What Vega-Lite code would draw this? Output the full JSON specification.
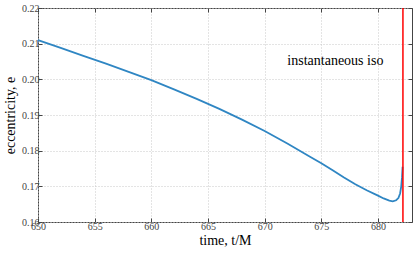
{
  "$schema": "https://vega.github.io/schema/vega-lite/v6.json",
  "width": 374,
  "height": 214,
  "autosize": {"type": "none"},
  "padding": {"left": 38, "top": 8, "right": 3, "bottom": 32},
  "config": {
    "font": "Liberation Serif",
    "view": {"stroke": "#444", "strokeWidth": 1},
    "axis": {
      "labelFont": "Liberation Serif",
      "titleFont": "Liberation Serif",
      "labelColor": "#444",
      "labelFontSize": 10,
      "titleFontSize": 14,
      "titleFontWeight": "normal",
      "titleColor": "#000",
      "labelOverlap": false,
      "labelFlush": false,
      "labelBound": false,
      "domain": false,
      "tickColor": "#444",
      "tickSize": -4,
      "gridColor": "#c8c8c8",
      "gridDash": [1, 2],
      "gridWidth": 1
    }
  },
  "resolve": {"axis": {"x": "independent", "y": "independent"}},
  "datasets": {
    "curve": [
      {"t": 650, "e": 0.2110},
      {"t": 652, "e": 0.2088},
      {"t": 654, "e": 0.2066},
      {"t": 656, "e": 0.2044},
      {"t": 658, "e": 0.2021},
      {"t": 660, "e": 0.1998},
      {"t": 662, "e": 0.1972},
      {"t": 664, "e": 0.1945},
      {"t": 666, "e": 0.1917},
      {"t": 668, "e": 0.1887},
      {"t": 670, "e": 0.1855},
      {"t": 672, "e": 0.1820},
      {"t": 674, "e": 0.1783},
      {"t": 675, "e": 0.1765},
      {"t": 676, "e": 0.1745},
      {"t": 677, "e": 0.1725},
      {"t": 678, "e": 0.1706},
      {"t": 679, "e": 0.1689},
      {"t": 680, "e": 0.1674},
      {"t": 680.5, "e": 0.1666},
      {"t": 681, "e": 0.1660},
      {"t": 681.3, "e": 0.1658},
      {"t": 681.6, "e": 0.1661},
      {"t": 681.8, "e": 0.1667},
      {"t": 681.95, "e": 0.1680},
      {"t": 682.05, "e": 0.1700},
      {"t": 682.12, "e": 0.1725},
      {"t": 682.17, "e": 0.1755}
    ],
    "marker": [{"t": 682.2}],
    "label": [{"t": 672, "e": 0.2051, "text": "instantaneous iso"}]
  },
  "layer": [
    {
      "data": {"name": "curve"},
      "mark": {"type": "line", "color": "#2f86c3", "strokeWidth": 1.8},
      "encoding": {
        "x": {
          "field": "t", "type": "quantitative",
          "scale": {"domain": [650, 683], "nice": false, "zero": false},
          "axis": {"title": "time, t/M", "values": [650, 655, 660, 665, 670, 675, 680], "labelPadding": 3, "titlePadding": 2}
        },
        "y": {
          "field": "e", "type": "quantitative",
          "scale": {"domain": [0.16, 0.22], "nice": false, "zero": false},
          "axis": {"title": "eccentricity, e", "values": [0.16, 0.17, 0.18, 0.19, 0.2, 0.21, 0.22], "format": ".2f", "labelPadding": 3, "titlePadding": 4}
        }
      }
    },
    {
      "data": {"name": "marker"},
      "mark": {"type": "rule", "color": "#ff0000", "strokeWidth": 1.5},
      "encoding": {
        "x": {
          "field": "t", "type": "quantitative",
          "axis": {"orient": "top", "title": null, "labels": false, "grid": false, "values": [650, 655, 660, 665, 670, 675, 680]}
        }
      }
    },
    {
      "data": {"name": "label"},
      "mark": {"type": "text", "align": "left", "baseline": "middle", "fontSize": 14, "font": "Liberation Serif", "color": "#000"},
      "encoding": {
        "x": {"field": "t", "type": "quantitative", "axis": null},
        "y": {
          "field": "e", "type": "quantitative",
          "axis": {"orient": "right", "title": null, "labels": false, "grid": false, "values": [0.16, 0.17, 0.18, 0.19, 0.2, 0.21, 0.22]}
        },
        "text": {"field": "text"}
      }
    }
  ]
}
